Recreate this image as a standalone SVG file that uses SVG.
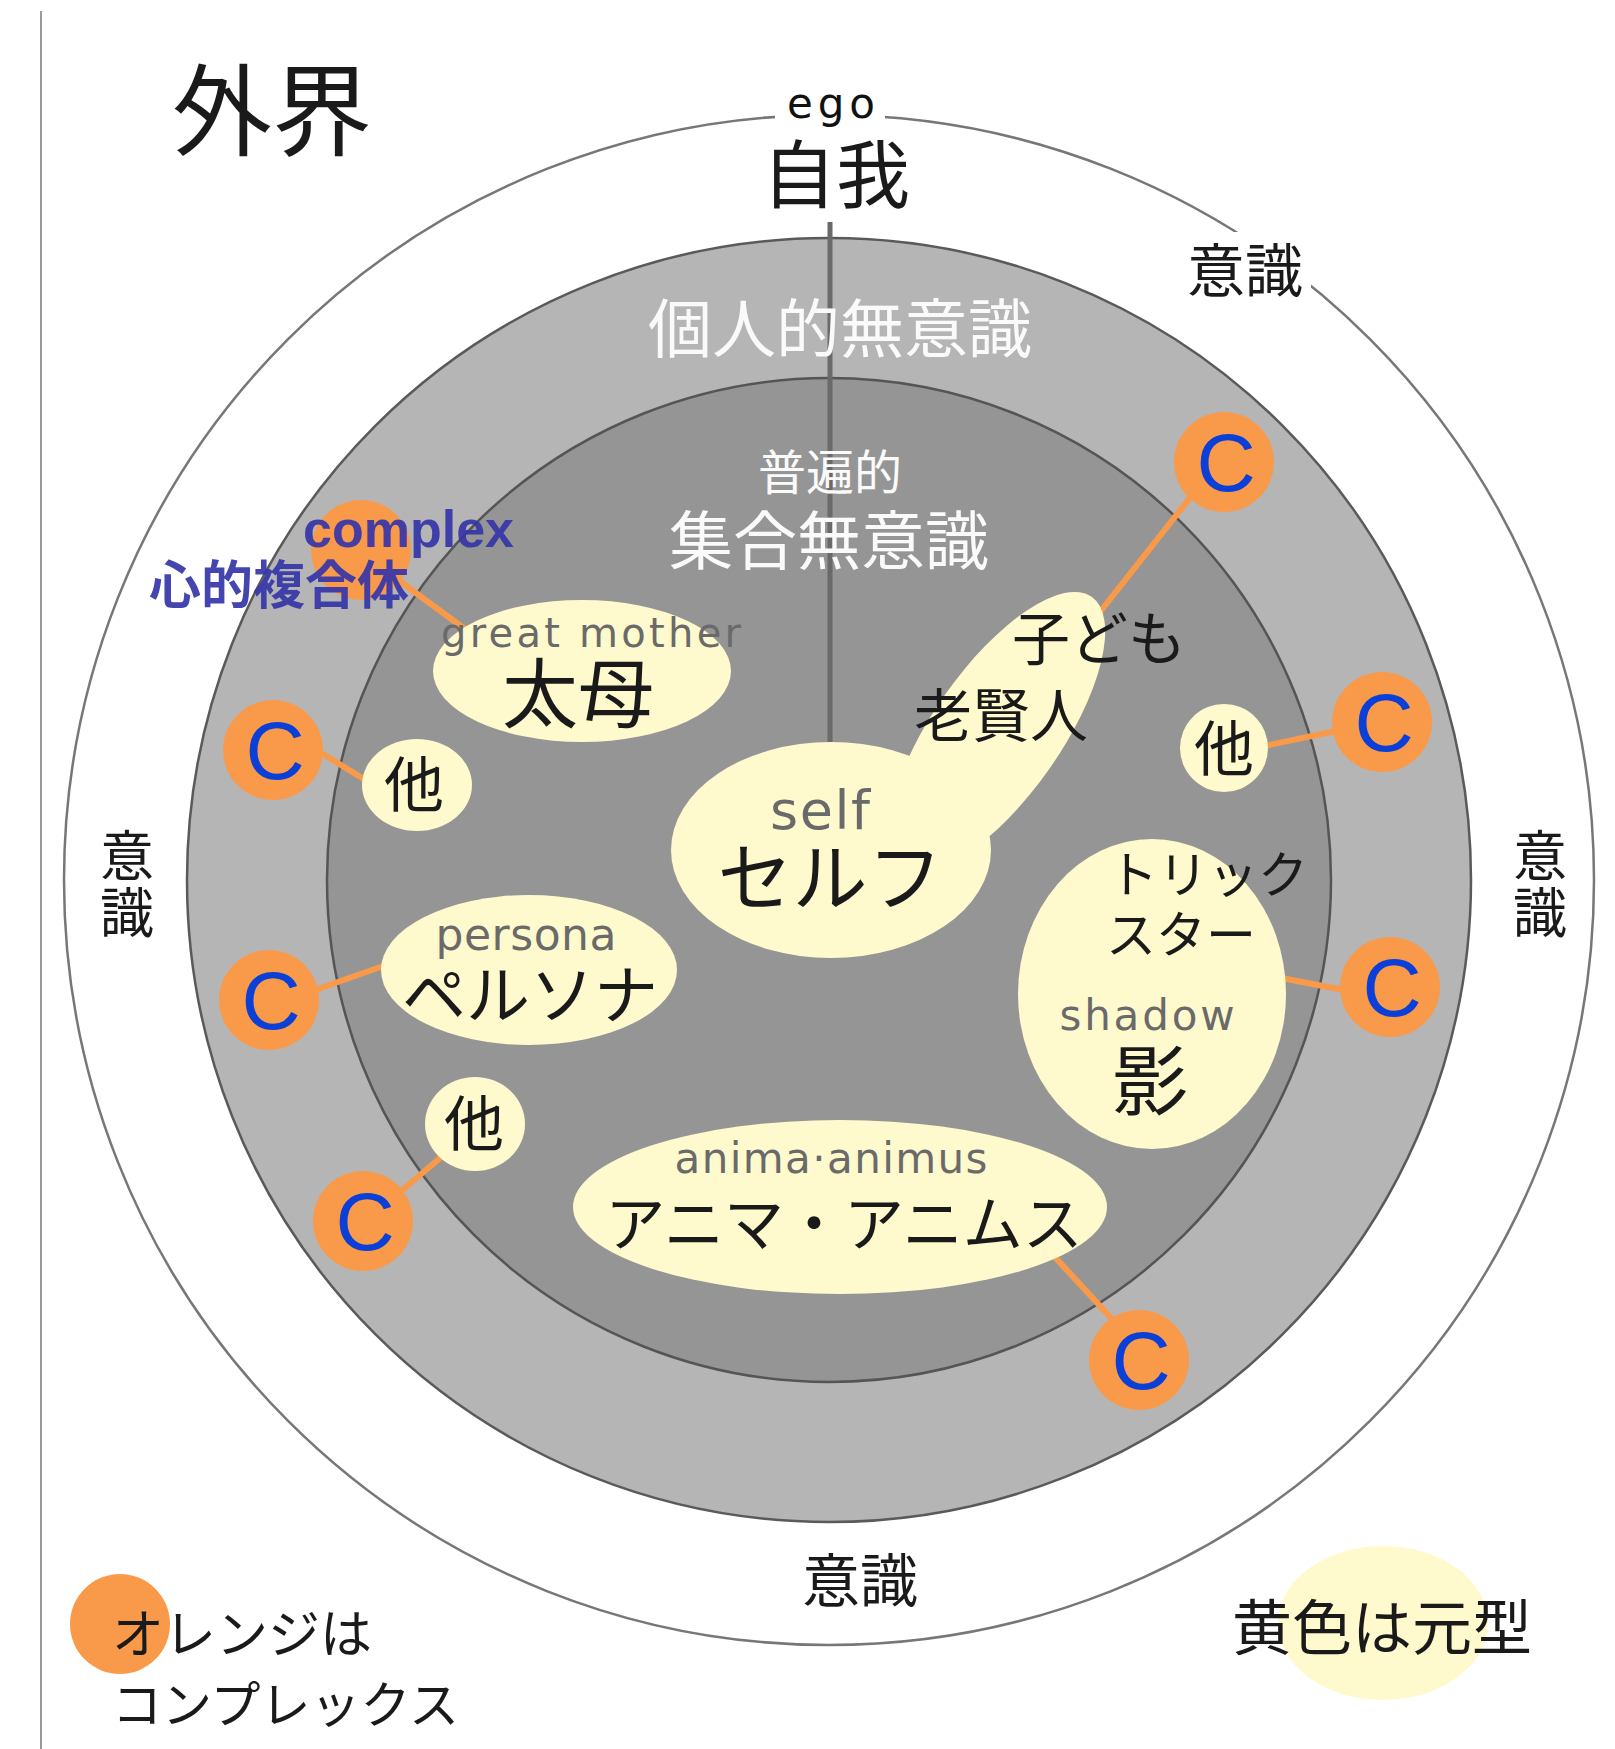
<svg xmlns="http://www.w3.org/2000/svg" width="1615" height="1749" viewBox="0 0 1615 1749">
<style>
.jp{font-family:"Noto Sans CJK JP","Noto Sans CJK SC",sans-serif;fill:#1a1a1a}
.wh{fill:#fafafa}
.lat{font-family:"DejaVu Sans","Liberation Sans",sans-serif;fill:#6a6a6a}
.cx{font-family:"Liberation Sans",Arial,sans-serif;font-size:82px;fill:#0a3fd8;text-anchor:middle}
.org{fill:#f99a4b}
.yel{fill:#fffacd}
.con line{stroke:#f99a4b;stroke-width:6;stroke-linecap:round}
.m{text-anchor:middle}
.blue{fill:#3535a8;font-weight:bold;fill-opacity:0.92}
</style>
<rect width="1615" height="1749" fill="#ffffff"/>
<line x1="41" y1="11" x2="41" y2="1749" stroke="#9a9a9a" stroke-width="2"/>
<g id="rings">
<circle cx="829" cy="880" r="765" fill="#ffffff" stroke="#777777" stroke-width="2.5"/>
<rect x="775" y="80" width="110" height="55" fill="#ffffff"/>
<rect x="1183" y="232" width="128" height="70" fill="#ffffff"/>
<circle cx="829" cy="880" r="642" fill="#b5b5b5" stroke="#5a5a5a" stroke-width="2.5"/>
<circle cx="829" cy="880" r="502" fill="#959595" stroke="#555555" stroke-width="2.5"/>
<line x1="830" y1="222" x2="830" y2="760" stroke="#6a6a6a" stroke-width="5"/>
</g>
<g id="labels">
<text class="jp m" x="272" y="148" font-size="100">外界</text>
<text class="lat m" x="831" y="118" font-size="42" style="fill:#111" textLength="88" lengthAdjust="spacing">ego</text>
<text class="jp m" x="836" y="202" font-size="74">自我</text>
<text class="jp m" x="1245" y="292" font-size="58">意識</text>
<text class="jp m" x="127" y="876" font-size="54">意</text>
<text class="jp m" x="127" y="933" font-size="54">識</text>
<text class="jp m" x="1540" y="876" font-size="54">意</text>
<text class="jp m" x="1540" y="933" font-size="54">識</text>
<text class="jp m" x="860" y="1602" font-size="58">意識</text>
<text class="jp m wh" x="840" y="352" font-size="64">個人的無意識</text>
<text class="jp m wh" x="830" y="490" font-size="48">普遍的</text>
<text class="jp m wh" x="829" y="564" font-size="64">集合無意識</text>
</g>
<g class="con" id="connectors">
<line x1="1200" y1="485" x2="1100" y2="612"/>
<line x1="1250" y1="749" x2="1350" y2="728"/>
<line x1="300" y1="740" x2="390" y2="795"/>
<line x1="290" y1="999" x2="400" y2="960"/>
<line x1="380" y1="1209" x2="460" y2="1141"/>
<line x1="1260" y1="974" x2="1370" y2="995"/>
<line x1="1040" y1="1241" x2="1125" y2="1333"/>
<line x1="390" y1="574" x2="480" y2="640"/>
</g>
<g id="great-mother">
<ellipse class="yel" cx="582" cy="671" rx="149" ry="71"/>
<text class="lat m" x="591" y="647" font-size="40" textLength="300" lengthAdjust="spacing">great mother</text>
<text class="jp m" x="578" y="722" font-size="76">太母</text>
</g>
<g id="self">
<ellipse class="yel" cx="831" cy="850" rx="160" ry="108"/>
<ellipse class="yel" cx="997" cy="732" rx="165" ry="64" transform="rotate(-55 997 732)"/>
<text class="lat m" x="820" y="829" font-size="54" textLength="100" lengthAdjust="spacing">self</text>
<text class="jp m" x="830" y="905" font-size="75">セルフ</text>
<text class="jp m" x="1099" y="660" font-size="58">子ども</text>
<text class="jp m" x="1001" y="737" font-size="58">老賢人</text>
</g>
<g id="other-right">
<circle class="yel" cx="1224" cy="748" r="44"/>
<text class="jp m" x="1224" y="771" font-size="60">他</text>
</g>
<g id="other-left">
<ellipse class="yel" cx="417" cy="785" rx="55" ry="46"/>
<text class="jp m" x="414" y="807" font-size="60">他</text>
</g>
<g id="other-lower">
<ellipse class="yel" cx="475" cy="1124" rx="50" ry="47"/>
<text class="jp m" x="474" y="1146" font-size="60">他</text>
</g>
<g id="persona">
<ellipse class="yel" cx="529" cy="970" rx="148" ry="75"/>
<text class="lat m" x="526" y="950" font-size="44" textLength="181" lengthAdjust="spacing">persona</text>
<text class="jp m" x="530" y="1018" font-size="64">ペルソナ</text>
</g>
<g id="shadow">
<ellipse class="yel" cx="1152" cy="994" rx="134" ry="155"/>
<text class="jp" x="1108" y="893" font-size="50">トリック</text>
<text class="jp" x="1106" y="953" font-size="50">スター</text>
<text class="lat m" x="1147" y="1030" font-size="42" textLength="175" lengthAdjust="spacing">shadow</text>
<text class="jp m" x="1150" y="1109" font-size="76">影</text>
</g>
<g id="anima">
<ellipse class="yel" cx="840" cy="1207" rx="267" ry="87"/>
<text class="lat m" x="831" y="1173" font-size="42" textLength="313" lengthAdjust="spacing">anima·animus</text>
<text class="jp m" x="844" y="1246" font-size="60">アニマ・アニムス</text>
</g>
<g id="c1"><circle class="org" cx="1224" cy="462" r="50"/><text class="cx" x="1226" y="491">C</text></g>
<g id="c2"><circle class="org" cx="1382" cy="722" r="50"/><text class="cx" x="1384" y="751">C</text></g>
<g id="c3"><circle class="org" cx="273" cy="750" r="50"/><text class="cx" x="275" y="779">C</text></g>
<g id="c4"><circle class="org" cx="269" cy="1000" r="50"/><text class="cx" x="271" y="1029">C</text></g>
<g id="c5"><circle class="org" cx="363" cy="1221" r="50"/><text class="cx" x="365" y="1250">C</text></g>
<g id="c6"><circle class="org" cx="1390" cy="987" r="50"/><text class="cx" x="1392" y="1016">C</text></g>
<g id="c7"><circle class="org" cx="1139" cy="1360" r="50"/><text class="cx" x="1141" y="1389">C</text></g>
<g id="complex">
<circle class="org" cx="361" cy="550" r="50"/>
<text class="blue" x="303" y="547" font-family="Liberation Sans, Arial, sans-serif" font-size="52">complex</text>
<text class="jp blue" x="149" y="604" font-size="52">心的複合体</text>
</g>
<g id="legend-orange">
<circle class="org" cx="120" cy="1624" r="50"/>
<text class="jp" x="112" y="1653" font-size="52">オレンジは</text>
<text class="jp" x="112" y="1723" font-size="50">コンプレックス</text>
</g>
<g id="legend-yellow">
<ellipse class="yel" cx="1383" cy="1623" rx="105" ry="77"/>
<text class="jp m" x="1382" y="1650" font-size="60">黄色は元型</text>
</g>
</svg>
